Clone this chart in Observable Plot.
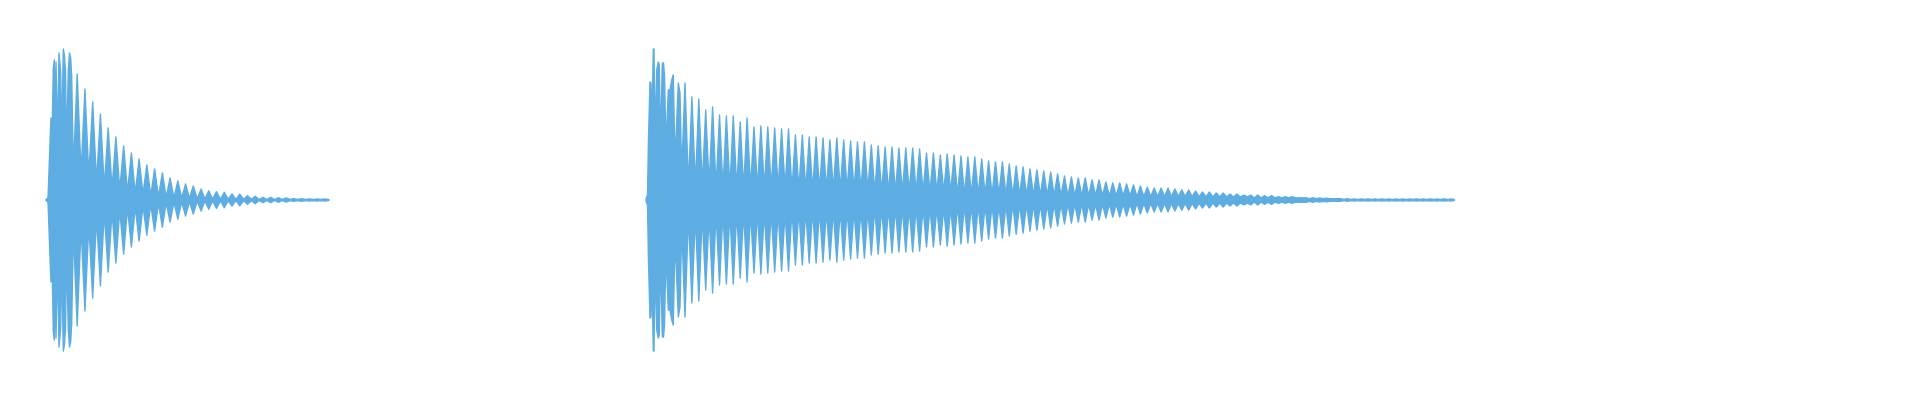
<!DOCTYPE html>
<html>
<head>
<meta charset="utf-8">
<script src="https://cdn.jsdelivr.net/npm/d3@7"></script>
<script src="https://cdn.jsdelivr.net/npm/@observablehq/plot@0.6"></script>
<style>
  html, body { margin: 0; padding: 0; background: #ffffff; }
  #chart svg { display: block; }
</style>
</head>
<body>
<div id="chart"></div>
<script>
// ---- Data: two plucked notes, time in ms, amplitude in % of full scale ----
const waveColor = "#5DADE2";
const clipDuration = 1920;

// Note 1 – attack transient (time ms, envelope %)
const note1AttackTime = [46, 48, 48.5, 50, 51, 52, 53.3, 54.3, 55, 56, 57.5, 59, 60.7, 61.7, 63.3, 64.5, 65.5, 66.5, 68.3, 69.5, 70.7, 71.7, 73.3];
const note1AttackAmp  = [0.3, 1.3, 9.4, 35.6, 51.3, 35.6, 82.5, 87.5, 43.8, 86.3, 37.5, 91.9, 80, 35.6, 94.4, 90, 80, 31.3, 81.3, 91.9, 88.8, 76.9, 18.8];
// Note 1 – one peak per pitch period after the attack
const note1CycleStart = 77.2;
const note1Period = 7.74;
const note1Peaks   = [78.8, 69.4, 61.3, 53.8, 45, 39.4, 33.8, 29.4, 25.6, 21.9, 19.4, 16.9, 13.8, 11.9, 10, 8.8, 6.9, 5.8, 5.2, 4.8, 3.8, 3.6, 2.7, 2.3, 1.7, 1.7, 1.4, 1.3, 0.9, 0.75, 0.6, 0.6, 0.6];
const note1Valleys = [16.9, 15, 11.3, 8.1, 7.5, 6.3, 5, 4.4, 3.8, 2.5, 1.9, 1.6, 1.3, 1.3, 0.9, 0.8, 0.6, 0.6, 0.5, 0.5, 0.4, 0.4, 0.4, 0.3, 0.3, 0.3, 0.3, 0.3, 0.3, 0.3, 0.3, 0.3, 0.3];

// Note 2 – attack transient
const note2AttackTime = [646, 647.5, 648.5, 650, 651, 651.7, 653.3, 654, 655, 656.7, 658.3, 659.3, 660.5, 662.3, 663.5, 664.5, 666, 668.3, 670, 671.7, 673.3, 675, 678.3, 680, 681.7];
const note2AttackAmp  = [0.6, 3.1, 38.8, 73.8, 73.1, 38.8, 94.4, 94.4, 38.8, 81.3, 86.3, 84.4, 32.5, 85.6, 85.6, 78.1, 32.5, 68.8, 68.8, 75, 78.1, 23.1, 73.1, 66.9, 16.9];
// Note 2 – one peak per pitch period after the attack
const note2CycleStart = 685;
const note2Period = 6.9;
const note2Peaks = [
  73.1, 64.4, 63.1, 56.3, 58.1, 53.1, 52.5, 52.5, 48.8, 51.3,
  45.6, 46.3, 45.6, 45, 44.4, 44.4, 40.6, 40.6, 39.4, 39.4,
  38.8, 37.5, 38.8, 37.5, 36.9, 36.3, 36.3, 34.4, 33.8, 33.1,
  33.1, 32.5, 32.5, 32.5, 31.9, 29.4, 29.4, 28.1, 28.8, 28.1,
  27.5, 26.9, 26.9, 25.6, 24.4, 23.8, 23.8, 22.5, 21.3, 20.6,
  19.4, 18.8, 18.1, 17.5, 16.3, 15, 14.4, 13.8, 13.8, 12.5,
  12.5, 11.3, 10.6, 10.6, 10, 9.4, 8.8, 8.1, 7.5, 7.5,
  7.5, 6.9, 6.3, 6.3, 5.6, 5, 5, 4.4, 4.4, 3.8,
  3.8, 3.1, 3.1, 3.1, 2.7, 2.7, 2.1, 2.1, 2.1, 1.4,
  1.4, 1.4, 1.3, 1.1, 0.8, 0.8, 0.8, 0.6, 0.6, 0.6, 0.6, 0.6,
  0.6, 0.6, 0.6, 0.6, 0.6, 0.6, 0.6, 0.6, 0.6, 0.6
];
const note2Valleys = [
  9.4, 9.4, 9.4, 9.4,
  7.5, 7.5, 7.5, 7.5, 7.5, 7.5, 7.5, 7.5, 7.5, 7.5, 7.5,
  6.3, 6.3, 6.3, 6.3, 6.3, 6.3, 6.3, 6.3, 6.3, 6.3, 6.3, 6.3,
  5, 5, 5, 5, 5, 5, 5, 5, 5, 5, 5, 5,
  3.4, 3.4, 3.4, 3.4, 3.4, 3.4, 3.4, 3.4,
  2.8, 2.8, 2.8, 2.8, 2.8, 2.8, 2.8, 2.8,
  2.5, 2.5, 2.5, 2.5, 2.5, 2.5, 2.5, 2.5, 2.5, 2.5,
  2.1, 2.1, 2.1, 2.1, 2.1, 2.1, 2.1, 2.1, 2.1, 2.1,
  1.9, 1.9, 1.9, 1.9, 1.9, 1.9, 1.9,
  1.3, 1.3, 1.3, 1.3, 1.3, 1.3, 1.3, 1.3,
  0.8, 0.8, 0.8, 0.8, 0.8,
  0.3, 0.3, 0.3, 0.3, 0.3, 0.3, 0.3, 0.3, 0.3, 0.3, 0.3, 0.3, 0.3, 0.3, 0.3, 0.3, 0.3
];

// ---- Build the envelope table (peak / valley per period) ----
function envelope(note, attackTime, attackAmp, start, period, peaks, valleys) {
  const rows = attackTime.map((t, i) => ({note, t, a: attackAmp[i]}));
  peaks.forEach((p, i) => {
    rows.push({note, t: start + i * period, a: p});
    rows.push({note, t: start + (i + 0.5) * period, a: valleys[i]});
  });
  return rows;
}
const wave = [
  ...envelope("note 1", note1AttackTime, note1AttackAmp, note1CycleStart, note1Period, note1Peaks, note1Valleys),
  ...envelope("note 2", note2AttackTime, note2AttackAmp, note2CycleStart, note2Period, note2Peaks, note2Valleys)
];

const chart = Plot.plot({
  width: 1920,
  height: 400,
  marginLeft: 0,
  marginRight: 0,
  marginTop: 40,
  marginBottom: 40,
  x: {domain: [0, clipDuration], axis: null},
  y: {domain: [-100, 100], axis: null},
  marks: [
    Plot.areaY(wave, {
      x: "t",
      y1: d => -d.a,
      y2: "a",
      z: "note",
      fill: waveColor,
      stroke: waveColor,
      strokeWidth: 1.4,
      strokeLinejoin: "round",
      curve: "linear"
    })
  ]
});
document.getElementById("chart").appendChild(chart);
</script>
</body>
</html>
